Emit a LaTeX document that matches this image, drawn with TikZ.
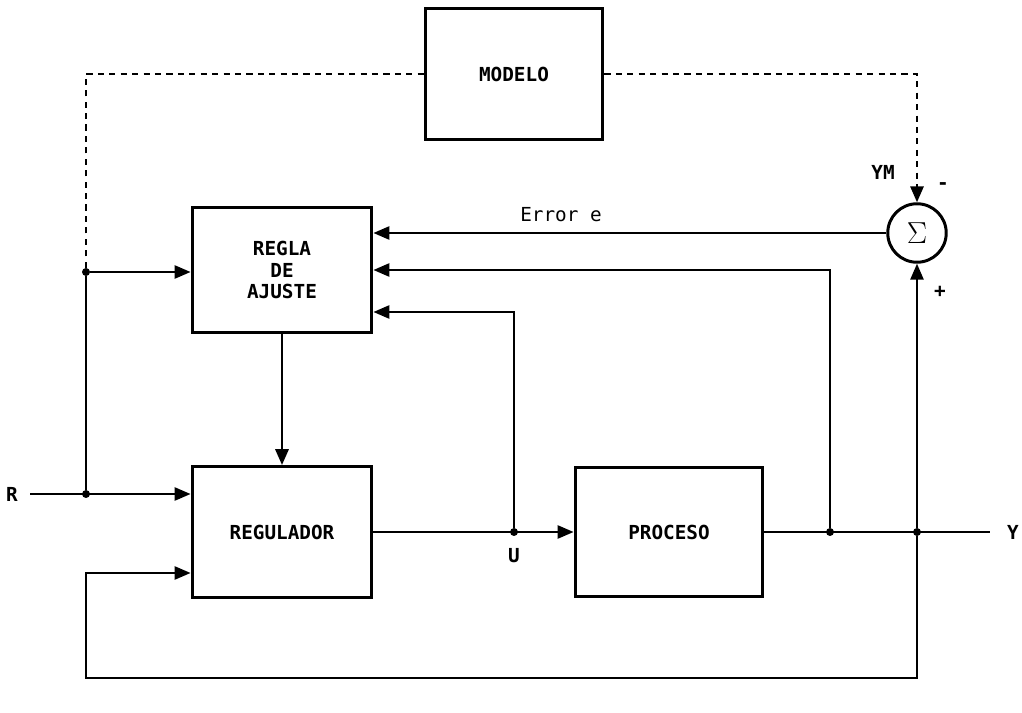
\documentclass[tikz,border=0pt]{standalone}
\usepackage{fontspec}
\setmonofont{DejaVu Sans Mono}
\usetikzlibrary{arrows.meta,calc}

\tikzset{
  block/.style={draw,line width=1.7pt,minimum width=3.6cm,minimum height=2.5cm,
                align=center,font=\ttfamily\bfseries\fontsize{11}{12}\selectfont},
  sig/.style={line width=1pt,-{Triangle[length=9pt,width=7.5pt]}},
  wire/.style={line width=1pt},
  dot/.style={circle,fill,inner sep=1.6pt},
  lbl/.style={font=\ttfamily\bfseries\fontsize{11}{12}\selectfont},
  dashline/.style={line width=1.2pt,dash pattern=on 3.5pt off 3pt},
}

\begin{document}
\begin{tikzpicture}[x=0.02cm,y=-0.02cm,line join=miter]
  \useasboundingbox (0,0) rectangle (1022,713);

  % --- blocks ---
  \node[block,minimum width=3.56cm,minimum height=2.64cm] (modelo) at (514,74) {MODELO};
  \node[block] (regla) at (282,270) {REGLA\\[0pt]DE\\[0pt]AJUSTE};
  \node[block,minimum height=2.62cm] (regulador) at (282,532) {REGULADOR};
  \node[block,minimum width=3.76cm,minimum height=2.6cm] (proceso) at (669,532) {PROCESO};
  \node[draw,circle,line width=1.7pt,minimum size=1.17cm,inner sep=0pt,
        font=\LARGE] (sum) at (917,233) {$\Sigma$};

  % --- junctions and free ends ---
  \coordinate (rIn) at (30,494);
  \node[dot] (jR) at (86,494) {};
  \node[dot] (jRa) at (86,272) {};
  \node[dot] (jU) at (514,532) {};
  \node[dot] (jY1) at (830,532) {};
  \node[dot] (jY2) at (917,532) {};
  \coordinate (yOut) at (990,532);
  \coordinate (uTop) at (514,312);
  \coordinate (fbR) at (917,678);
  \coordinate (fbL) at (86,678);

  % --- labels ---
  \node[lbl] (rLbl) at (12,494) {R};
  \node[lbl] (yLbl) at (1013,532) {Y};
  \node[lbl] (uLbl) at (514,556) {U};
  \node[lbl] (ymLbl) at (883,172) {YM};
  \node[lbl] (minus) at (943,186) {-};
  \node[lbl] (plus) at (940,292) {+};
  \node[font=\ttfamily\fontsize{11}{12}\selectfont] (errLbl) at (561,215) {Error e};

  % --- model path (dashed) ---
  \draw[dashline] (jRa) |- (modelo.west);
  \draw[dashline,-{Triangle[length=9pt,width=7.5pt]}] (modelo.east) -| (sum.north);

  % --- reference R ---
  \draw[sig] (rIn) -- ([yshift=0.76cm]regulador.west);
  \draw[wire] (jR) -- (jRa);
  \draw[sig] (jRa) -- (regla.west |- jRa);

  % --- adjustment rule inputs ---
  \draw[sig] (sum.west) -- (sum.west -| regla.east);
  \draw[sig] (jY1) |- (regla.east);
  \draw[sig] (jU) -- (uTop) -- (uTop -| regla.east);
  \draw[sig,line width=1.4pt] (regla.south) -- (regulador.north);

  % --- forward path ---
  \draw[sig] (regulador.east) -- (proceso.west);
  \draw[wire] (proceso.east) -- (yOut);
  \draw[sig] (jY2) -- (sum.south);

  % --- feedback of Y ---
  \draw[sig] (jY2) -- (fbR) -- (fbL) |- ([yshift=-0.82cm]regulador.west);
\end{tikzpicture}
\end{document}
